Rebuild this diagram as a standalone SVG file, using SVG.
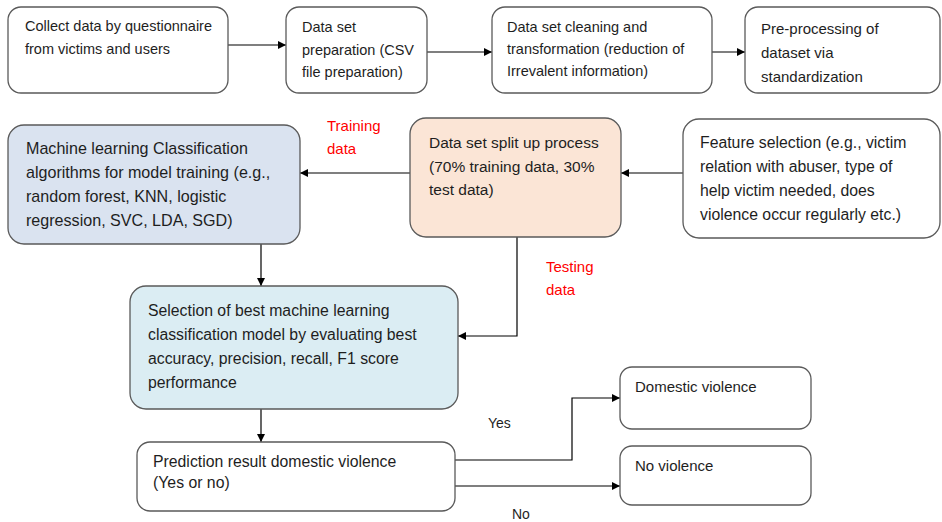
<svg xmlns="http://www.w3.org/2000/svg" width="942" height="522" viewBox="0 0 942 522">
<defs>
<style>
.box{stroke:#5a5a5a;stroke-width:1.3;fill:#ffffff}
.blue{fill:#dae3f0}
.peach{fill:#fbe5d6}
.cyan{fill:#dbedf3}
text{font-family:"Liberation Sans",Arial,sans-serif;fill:#1e1e1e}
.t1{font-size:14.5px}
.t2{font-size:15px}
.t3{font-size:15.8px}
.t4{font-size:15.5px}
.t5{font-size:16.1px}
.red{fill:#ff0000;font-size:15px}
.lbl{font-size:14px}
.conn{stroke:#000;stroke-width:1.2;fill:none;marker-end:url(#arr)}
</style>
<marker id="arr" viewBox="0 0 10 10" refX="10" refY="5" markerWidth="9" markerHeight="8" markerUnits="userSpaceOnUse" orient="auto">
<path d="M0,0 L10,5 L0,10 z" fill="#000"/>
</marker>
</defs>
<rect width="942" height="522" fill="#ffffff"/>
<g id="connectors">
<line class="conn" x1="228" y1="45" x2="286" y2="45"/>
<line class="conn" x1="427" y1="52" x2="492" y2="52"/>
<line class="conn" x1="712" y1="52" x2="745" y2="52"/>
<line class="conn" x1="410" y1="173" x2="300" y2="173"/>
<line class="conn" x1="683" y1="173" x2="621" y2="173"/>
<polyline class="conn" points="517,237 517,336 458,336"/>
<line class="conn" x1="261" y1="244" x2="261" y2="286"/>
<line class="conn" x1="261" y1="409" x2="261" y2="442"/>
<polyline class="conn" points="455,460 572,460 572,398 620,398"/>
<line class="conn" x1="455" y1="486" x2="620" y2="486"/>
<text class="red" x="327" y="131">Training</text>
<text class="red" x="327" y="154">data</text>
<text class="red" x="546" y="272">Testing</text>
<text class="red" x="546" y="295">data</text>
<text class="lbl" x="488" y="428">Yes</text>
<text class="lbl" x="512" y="519">No</text>
</g>
<g id="collect">
<rect class="box" x="8" y="7" width="220" height="86" rx="13"/>
<text class="t1" x="25" y="31">Collect data by questionnaire</text>
<text class="t1" x="25" y="54">from victims and users</text>
</g>
<g id="prep">
<rect class="box" x="286" y="7" width="141" height="86" rx="13"/>
<text class="t1" x="302" y="32">Data set</text>
<text class="t1" x="302" y="55">preparation (CSV</text>
<text class="t1" x="302" y="77">file preparation)</text>
</g>
<g id="cleaning">
<rect class="box" x="492" y="7" width="220" height="86" rx="13"/>
<text class="t1" x="507" y="32">Data set cleaning and</text>
<text class="t1" x="507" y="54">transformation (reduction of</text>
<text class="t1" x="507" y="76"> Irrevalent information)</text>
</g>
<g id="preprocess">
<rect class="box" x="745" y="7" width="195" height="86" rx="13"/>
<text class="t2" x="761" y="34">Pre-processing of</text>
<text class="t2" x="761" y="58">dataset via</text>
<text class="t2" x="761" y="82">standardization</text>
</g>
<g id="ml">
<rect class="box blue" x="8" y="125" width="292" height="119" rx="16"/>
<text class="t5" x="26" y="154">Machine learning Classification</text>
<text class="t5" x="26" y="178">algorithms for model training (e.g.,</text>
<text class="t5" x="26" y="202">random forest, KNN, logistic</text>
<text class="t5" x="26" y="226">regression, SVC, LDA, SGD)</text>
</g>
<g id="split">
<rect class="box peach" x="410" y="118" width="211" height="119" rx="16"/>
<text class="t4" x="429" y="148">Data set split up process</text>
<text class="t4" x="429" y="172">(70% training data, 30%</text>
<text class="t4" x="429" y="195">test data)</text>
</g>
<g id="feature">
<rect class="box" x="683" y="119" width="257" height="119" rx="16"/>
<text class="t3" x="700" y="148">Feature selection (e.g., victim</text>
<text class="t3" x="700" y="172">relation with abuser, type of</text>
<text class="t3" x="700" y="196">help victim needed, does</text>
<text class="t3" x="700" y="220">violence occur regularly etc.)</text>
</g>
<g id="selection">
<rect class="box cyan" x="130" y="286" width="328" height="123" rx="16"/>
<text class="t3" x="148" y="316">Selection of best machine learning</text>
<text class="t3" x="148" y="340">classification model by evaluating best</text>
<text class="t3" x="148" y="364">accuracy, precision, recall, F1 score</text>
<text class="t3" x="148" y="388">performance</text>
</g>
<g id="prediction">
<rect class="box" x="137" y="442" width="318" height="69" rx="13"/>
<text class="t3" x="153" y="467">Prediction result domestic violence</text>
<text class="t3" x="153" y="488">(Yes or no)</text>
</g>
<g id="domestic">
<rect class="box" x="620" y="367" width="191" height="62" rx="12"/>
<text class="t2" x="635" y="392">Domestic violence</text>
</g>
<g id="noviolence">
<rect class="box" x="620" y="446" width="191" height="59" rx="12"/>
<text class="t2" x="635" y="471">No violence</text>
</g>
</svg>
